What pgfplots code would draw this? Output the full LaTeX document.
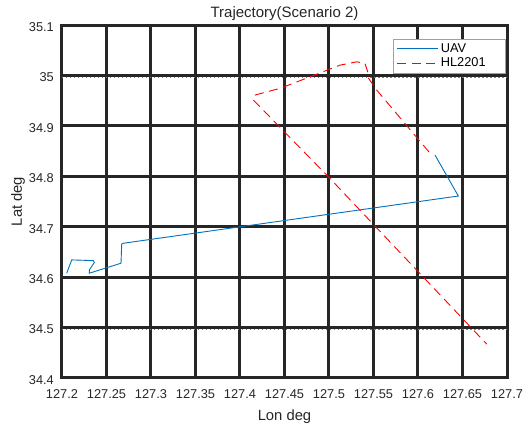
\documentclass[border=0pt]{standalone}
\usepackage{fontspec}
\setmainfont{Liberation Sans}
\usepackage{pgfplots}
\pgfplotsset{compat=1.18}
\definecolor{uavblue}{RGB}{0,114,189}
\definecolor{gridc}{RGB}{38,38,38}
\definecolor{legc}{RGB}{160,160,160}
\begin{document}
\begin{tikzpicture}
\path[use as bounding box] (-62pt,-47pt) rectangle (461pt,378pt);
\begin{axis}[
  scale only axis, width=445pt, height=353pt,
  at={(0pt,0pt)}, anchor=south west,
  xmin=127.2, xmax=127.7, ymin=34.4, ymax=35.1,
  xtick={127.2,127.25,127.3,127.35,127.4,127.45,127.5,127.55,127.6,127.65,127.7},
  xticklabels={127.2,127.25,127.3,127.35,127.4,127.45,127.5,127.55,127.6,127.65,127.7},
  ytick={34.4,34.5,34.6,34.7,34.8,34.9,35,35.1},
  yticklabels={34.4,34.5,34.6,34.7,34.8,34.9,35,35.1},
  grid=major,
  major grid style={line width=3pt, draw=gridc},
  axis line style={line width=3pt, draw=gridc},
  tick style={draw=none},
  tick label style={font=\fontsize{12.8}{14}\selectfont, text=gridc},
  xticklabel style={anchor=base, yshift=-21pt},
  yticklabel style={anchor=east, inner sep=0pt, xshift=-8pt, yshift=-2pt},
  extra y ticks={34.497,34.997},
  extra y tick labels={},
  extra y tick style={grid=major, major grid style={line width=0.8pt, draw=gray, dash pattern=on 1.5pt off 2.5pt}},
  title={Trajectory(Scenario 2)},
  title style={at={(axis description cs:0.5,1)}, anchor=base, yshift=1.7pt, font=\fontsize{15}{17}\selectfont, text=gridc},
  xlabel={Lon deg}, ylabel={Lat deg},
  every axis x label/.style={at={(axis description cs:0.5,-0.119)}, anchor=base, font=\fontsize{14.8}{16}\selectfont, text=gridc},
  every axis y label/.style={at={(axis description cs:-0.0899,0.5)}, anchor=base, rotate=90, font=\fontsize{14.8}{16}\selectfont, text=gridc},
  legend style={at={(axis description cs:1,1)}, anchor=north east, xshift=-2pt, yshift=-14pt,
    draw=legc, fill=white, font=\fontsize{12.8}{14}\selectfont,
    inner xsep=4pt, inner ysep=2.5pt, row sep=0pt,
    nodes={text width=58pt, align=left}},
  legend cell align=left,
  legend image code/.code={\draw[#1] (0pt,0pt) -- (41pt,0pt);},
]
\addplot[uavblue, line width=0.9pt] coordinates {
(127.2053,34.6078) (127.2109,34.6342) (127.2352,34.6328) (127.2363,34.6288)
(127.2307,34.6143) (127.2307,34.6078) (127.2663,34.6276) (127.2671,34.6659)
(127.2689,34.6672) (127.6453,34.7609) (127.6191,34.8422)
};
\addlegendentry{UAV}
\addplot[red, line width=0.9pt, dash pattern=on 9pt off 5.5pt] coordinates {
(127.6124,34.8481) (127.5536,34.9709) (127.5441,34.9953) (127.5435,35.0072)
(127.5404,35.0238) (127.5311,35.0270) (127.5124,35.0204) (127.4787,34.9973)
(127.4449,34.9743) (127.4262,34.9656) (127.4169,34.9610) (127.4149,34.9511)
(127.4169,34.9477) (127.4992,34.7992) (127.6772,34.4672)
};
\addlegendentry{HL2201}
\end{axis}
\end{tikzpicture}
\end{document}
